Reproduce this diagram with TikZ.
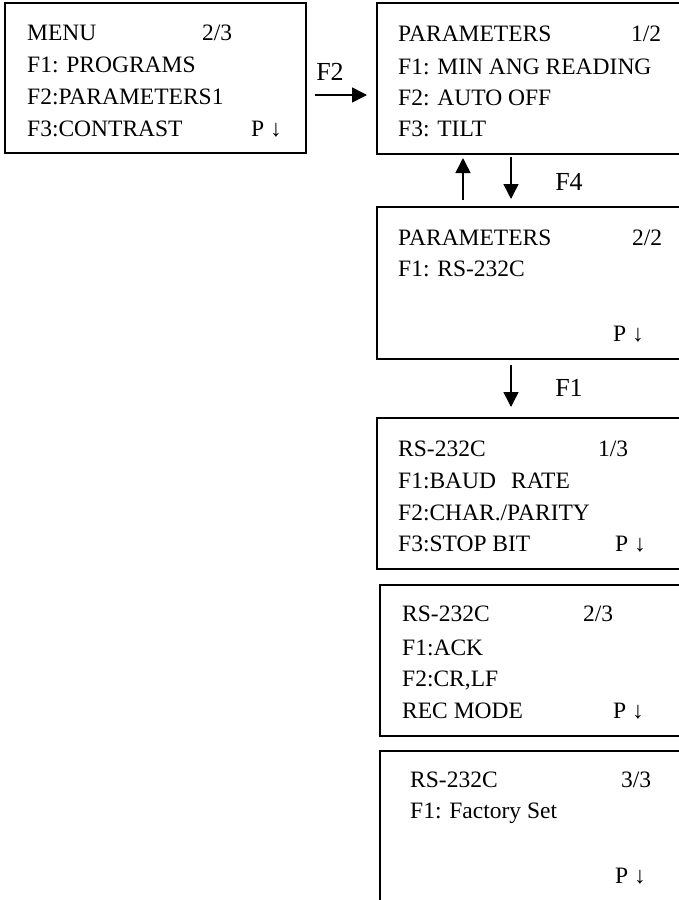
\documentclass[tikz,border=0pt]{standalone}
\usepackage{fontspec}
\setmainfont{Liberation Serif}
\usetikzlibrary{arrows.meta}
\begin{document}
\begin{tikzpicture}[x=1pt,y=-1pt,
  screen/.style={draw=black,line width=1.8pt},
  txt/.style={anchor=base west,inner sep=0pt,font=\fontsize{23.5}{28}\selectfont},
  key/.style={anchor=center,inner sep=0pt,font=\fontsize{26}{30}\selectfont},
  flow/.style={line width=1.5pt,-{Triangle[length=15pt,width=15pt]}}]
\clip (0,0) rectangle (679,900);
% screens
\draw[screen] (5,3) rectangle (306,153);
\coordinate (b1) at (5,3);
\draw[screen] (377,3) rectangle (690,154);
\draw[screen] (377,207) rectangle (690,359);
\draw[screen] (377,418) rectangle (690,569);
\draw[screen] (380,585) rectangle (690,736);
\draw[screen] (380,751) rectangle (690,910);
% box 1
\node[txt] (t11) at (27,40) {MENU};
\node[txt] (t1p) at (202,40) {2/3};
\node[txt] (t12) at (27,72) {F1: PROGRAMS};
\node[txt] (t13) at (27,104) {F2:PARAMETERS1};
\node[txt] (t14) at (27,136) {F3:CONTRAST};
\node[txt] (t1d) at (251,136) {P ↓};
% box 2
\node[txt] (t21) at (398,41) {PARAMETERS};
\node[txt] (t2p) at (631,41) {1/2};
\node[txt] (t22) at (398,74) {F1: MIN ANG READING};
\node[txt] (t23) at (398,105) {F2: AUTO OFF};
\node[txt] (t24) at (398,136) {F3: TILT};
% box 3
\node[txt] (t31) at (398,245) {PARAMETERS};
\node[txt] (t3p) at (632,245) {2/2};
\node[txt] (t32) at (398,276) {F1: RS-232C};
\node[txt] (t3d) at (613,341) {P ↓};
% box 4
\node[txt] (t41) at (398,456) {RS-232C};
\node[txt] (t4p) at (598,456) {1/3};
\node[txt] (t42) at (398,488) {F1:BAUD\hspace{15pt}RATE};
\node[txt] (t43) at (398,520) {F2:CHAR./PARITY};
\node[txt] (t44) at (398,551) {F3:STOP BIT};
\node[txt] (t4d) at (615,551) {P ↓};
% box 5
\node[txt] (t51) at (402,621) {RS-232C};
\node[txt] (t5p) at (583,621) {2/3};
\node[txt] (t52) at (402,655) {F1:ACK};
\node[txt] (t53) at (402,686) {F2:CR,LF};
\node[txt] (t54) at (402,718) {REC MODE};
\node[txt] (t5d) at (613,718) {P ↓};
% box 6
\node[txt] (t61) at (410,787) {RS-232C};
\node[txt] (t6p) at (621,787) {3/3};
\node[txt] (t62) at (410,818) {F1: Factory Set};
\node[txt] (t6d) at (615,883) {P ↓};
% key labels
\node[key] (kF2) at (330,72) {F2};
\node[key] (kF4) at (569,182) {F4};
\node[key] (kF1) at (569,388) {F1};
% arrow ends
\coordinate (a1s) at (315,95);
\coordinate (a1e) at (367,95);
\coordinate (a2s) at (463,200);
\coordinate (a2e) at (463,158);
\coordinate (a3s) at (511,157);
\coordinate (a3e) at (511,199);
\coordinate (a4s) at (511,365);
\coordinate (a4e) at (511,407);
\draw[flow] (a1s) -- (a1e);
\draw[flow] (a2s) -- (a2e);
\draw[flow] (a3s) -- (a3e);
\draw[flow] (a4s) -- (a4e);
\end{tikzpicture}
\end{document}
